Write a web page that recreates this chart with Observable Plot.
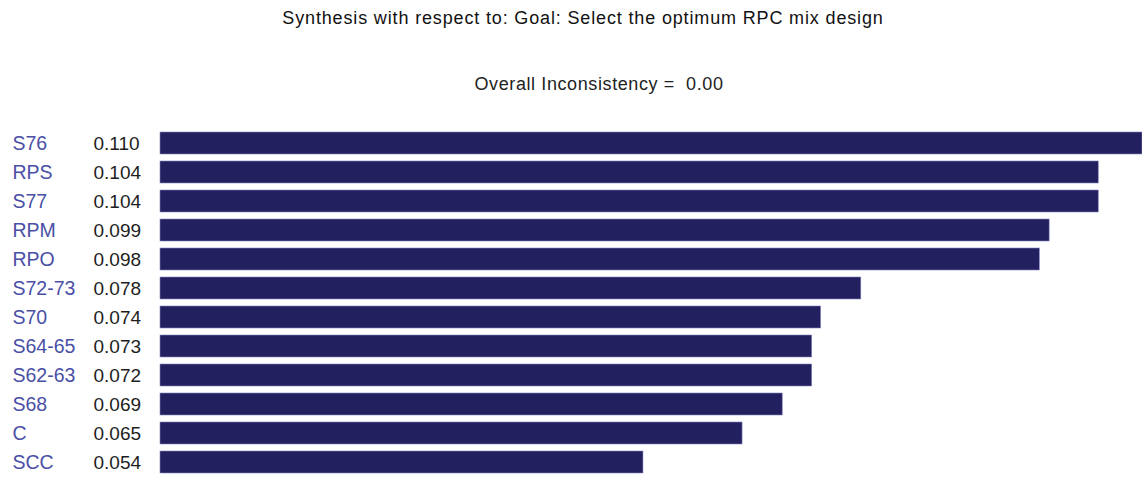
<!DOCTYPE html>
<html>
<head>
<meta charset="utf-8">
<script src="https://cdn.jsdelivr.net/npm/d3@7"></script>
<script src="https://cdn.jsdelivr.net/npm/@observablehq/plot@0.6"></script>
<style>
  html, body { margin: 0; padding: 0; background: #fff; }
  body { width: 1142px; height: 477px; position: relative; overflow: hidden; font-family: "Liberation Sans", Arial, sans-serif; }
  #title { position: absolute; left: 0; width: 1142px; top: 7px; padding-left: 24px; box-sizing: border-box; text-align: center; font-size: 18px; letter-spacing: 0.85px; color: #111; line-height: 22px; }
  #subtitle { position: absolute; left: 0; width: 1142px; top: 73px; padding-left: 56px; box-sizing: border-box; text-align: center; font-size: 18px; letter-spacing: 0.6px; color: #222; line-height: 22px; }
  #chart { position: absolute; left: 0; top: 110px; }
</style>
</head>
<body>
<div id="title">Synthesis with respect to: Goal: Select the optimum RPC mix design</div>
<div id="subtitle">Overall Inconsistency =&nbsp; 0.00</div>
<div id="chart"></div>
<script>
// Alternatives (categories)
const alternatives = ["S76", "RPS", "S77", "RPM", "RPO", "S72-73", "S70", "S64-65", "S62-63", "S68", "C", "SCC"];
// Priorities
const priorities = [0.1100, 0.1051, 0.1051, 0.0996, 0.0985, 0.0785, 0.0740, 0.0730, 0.0730, 0.0697, 0.0652, 0.0541];
// Priority labels as printed next to each alternative
const priorityLabels = ["0.110", "0.104", "0.104", "0.099", "0.098", "0.078", "0.074", "0.073", "0.072", "0.069", "0.065", "0.054"];

const data = alternatives.map((name, i) => ({name, value: priorities[i], label: priorityLabels[i]}));

const chart = Plot.plot({
  width: 1142,
  height: 367,
  marginLeft: 160,
  marginRight: 0,
  marginTop: 0,
  marginBottom: 0,
  style: {fontFamily: "'Liberation Sans', Arial, sans-serif", background: "#fff"},
  x: {domain: [0, 0.110], axis: null},
  y: {domain: alternatives, range: [13.8, 371.3], padding: 0.25, axis: null},
  marks: [
    Plot.barX(data, {x: "value", y: "name", fill: "#22205e", stroke: "#8886c0", strokeWidth: 0.6}),
    Plot.text(data, {y: "name", text: "name", frameAnchor: "left", dx: -148, textAnchor: "start", fill: "#4a4fa6", fontSize: 19.5}),
    Plot.text(data, {y: "name", text: "label", frameAnchor: "left", dx: -67, textAnchor: "start", fill: "#1e1e1e", fontSize: 19})
  ]
});
document.getElementById("chart").appendChild(chart);
</script>
</body>
</html>
